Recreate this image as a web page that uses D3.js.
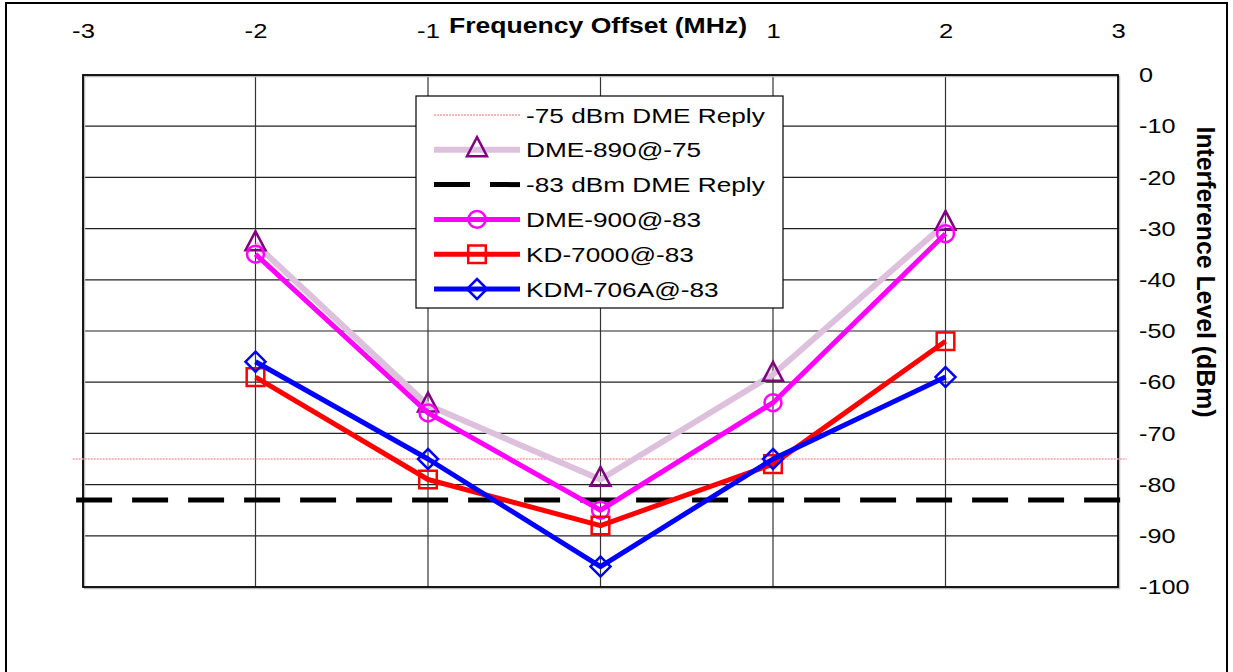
<!DOCTYPE html>
<html><head><meta charset="utf-8">
<script src="https://cdn.jsdelivr.net/npm/d3@7/dist/d3.min.js"></script>
<style>
html,body{margin:0;padding:0;background:#fff;}
text{font-family:Arial,"Liberation Sans",sans-serif;}
</style></head>
<body>
<svg id="chart" width="1233" height="672"></svg>
<script>
// ---- data ----
const xOffsets = [-2, -1, 0, 1, 2];
const dme890 = [-33, -64.5, -79, -58.5, -29];
const dme900 = [-35, -66, -85, -64, -31];
const kd7000 = [-59, -79, -88, -76, -52];
const kdm706a = [-56, -75, -96, -75, -59];
const ref75X = [-3.06, 3.05];
const ref75Y = [-75, -75];
const ref83X = [-3.04, 3.04];
const ref83Y = [-83, -83];
const xTicks = [-3, -2, -1, 0, 1, 2, 3];
const yTicks = [0, -10, -20, -30, -40, -50, -60, -70, -80, -90, -100];
const seriesNames = ["-75 dBm DME Reply", "DME-890@-75", "-83 dBm DME Reply", "DME-900@-83", "KD-7000@-83", "KDM-706A@-83"];
const xTitle = "Frequency Offset (MHz)";
const yTitle = "Interference Level (dBm)";

// ---- layout ----
const svg = d3.select("#chart");
const L = 83, R = 1118, T = 75, B = 587;
const x = d3.scaleLinear().domain([-3, 3]).range([L, R]);
const y = d3.scaleLinear().domain([0, -100]).range([T, B]);
const fmt = d => String(d);

function stretch(sel, f) {
  sel.each(function () {
    const w = this.getComputedTextLength();
    d3.select(this).attr("textLength", w * f).attr("lengthAdjust", "spacingAndGlyphs");
  });
}

// outer frame
svg.append("rect").attr("x", 6).attr("y", 3).attr("width", 1221).attr("height", 700)
  .attr("fill", "none").attr("stroke", "#000").attr("stroke-width", 2);

// grid
const g = svg.append("g");
g.selectAll("line.hg").data(yTicks.slice(1, -1)).enter().append("line")
  .attr("x1", L).attr("x2", R).attr("y1", d => y(d)).attr("y2", d => y(d))
  .attr("stroke", "#222").attr("stroke-width", 1.2);
g.selectAll("line.vg").data(xTicks.slice(1, -1)).enter().append("line")
  .attr("y1", T).attr("y2", B).attr("x1", d => x(d)).attr("x2", d => x(d))
  .attr("stroke", "#333").attr("stroke-width", 1.2);
// shadow + border
svg.append("rect").attr("x", L + 1.5).attr("y", T + 1.5).attr("width", R - L).attr("height", B - T)
  .attr("fill", "none").attr("stroke", "#bbb").attr("stroke-width", 1.5);
svg.append("rect").attr("x", L).attr("y", T).attr("width", R - L).attr("height", B - T)
  .attr("fill", "none").attr("stroke", "#000").attr("stroke-width", 1.8);

// axes
const xAxis = svg.append("g").attr("transform", `translate(0,${T})`)
  .call(d3.axisTop(x).tickValues(xTicks).tickSize(0).tickPadding(37).tickFormat(fmt));
xAxis.select(".domain").remove();
xAxis.selectAll("text").attr("font-size", 21).attr("fill", "#000").attr("font-family", "Arial");
stretch(xAxis.selectAll("text"), 1.22);

const yAxis = svg.append("g").attr("transform", `translate(${R},0)`)
  .call(d3.axisRight(y).tickValues(yTicks).tickSize(0).tickPadding(21).tickFormat(fmt));
yAxis.select(".domain").remove();
yAxis.selectAll("text").attr("font-size", 21).attr("fill", "#000").attr("font-family", "Arial");
stretch(yAxis.selectAll("text"), 1.2);

// x title with white background
const xt = svg.append("text").attr("x", 598).attr("y", 33).attr("text-anchor", "middle")
  .attr("font-size", 22).attr("font-weight", "bold").text(xTitle);
xt.attr("textLength", 298).attr("lengthAdjust", "spacingAndGlyphs");
svg.insert("rect", () => xt.node()).attr("x", 598 - 152).attr("y", 12).attr("width", 304).attr("height", 26).attr("fill", "#fff");

// y title
svg.append("text").attr("transform", "translate(1197,272) rotate(90)").attr("text-anchor", "middle")
  .attr("font-size", 26).attr("font-weight", "bold").attr("textLength", 291).attr("lengthAdjust", "spacingAndGlyphs")
  .text(yTitle);

// series
const line = d3.line().x(d => x(d[0])).y(d => y(d[1]));
const zipXY = (xs, ys) => xs.map((v, i) => [v, ys[i]]);

const triType = { draw(ctx, size) { const w = 10, h = 19;
  ctx.moveTo(0, -h * 2 / 3); ctx.lineTo(w, h / 3); ctx.lineTo(-w, h / 3); ctx.closePath(); } };
const diaType = { draw(ctx, size) { const r = 10;
  ctx.moveTo(0, -r); ctx.lineTo(r, 0); ctx.lineTo(0, r); ctx.lineTo(-r, 0); ctx.closePath(); } };
const sym = {
  triangle: d3.symbol().type(triType),
  circle: d3.symbol().type(d3.symbolCircle).size(225),
  square: d3.symbol().type(d3.symbolSquare).size(310),
  diamond: d3.symbol().type(diaType)
};

const series = [
  { name: seriesNames[0], data: zipXY(ref75X, ref75Y), color: "#f2a0a0", width: 1.3, dash: "2,1" },
  { name: seriesNames[1], data: zipXY(xOffsets, dme890), color: "#dcc0dc", width: 6, marker: "triangle", mcolor: "#800080" },
  { name: seriesNames[2], data: zipXY(ref83X, ref83Y), color: "#000", width: 5, dash: "36,20" },
  { name: seriesNames[3], data: zipXY(xOffsets, dme900), color: "#ff00ff", width: 5, marker: "circle", mcolor: "#ff00ff" },
  { name: seriesNames[4], data: zipXY(xOffsets, kd7000), color: "#ff0000", width: 5, marker: "square", mcolor: "#ff0000" },
  { name: seriesNames[5], data: zipXY(xOffsets, kdm706a), color: "#0000ff", width: 5, marker: "diamond", mcolor: "#0000ff" }
];

series.forEach(s => {
  svg.append("path").datum(s.data).attr("d", line).attr("fill", "none")
    .attr("stroke", s.color).attr("stroke-width", s.width).attr("stroke-linejoin", "round")
    .attr("stroke-dasharray", s.dash || null);
  if (s.marker) {
    svg.selectAll(null).data(s.data).enter().append("path")
      .attr("d", sym[s.marker]())
      .attr("transform", d => `translate(${x(d[0])},${y(d[1])})`)
      .attr("fill", "none").attr("stroke", s.mcolor).attr("stroke-width", 2.5);
  }
});

// legend
const lg = svg.append("g");
lg.append("rect").attr("x", 416).attr("y", 96).attr("width", 367).attr("height", 212)
  .attr("fill", "#fff").attr("stroke", "#000").attr("stroke-width", 1.2);
const rowY = i => 115 + i * 34.8;
series.forEach((s, i) => {
  const yy = rowY(i);
  lg.append("line").attr("x1", 434).attr("x2", 520).attr("y1", yy).attr("y2", yy)
    .attr("stroke", s.color).attr("stroke-width", s.width).attr("stroke-dasharray", s.dash || null);
  if (s.marker) {
    lg.append("path").attr("d", sym[s.marker]()).attr("transform", `translate(477,${yy})`)
      .attr("fill", "none").attr("stroke", s.mcolor).attr("stroke-width", 2.5);
  }
  const t = lg.append("text").attr("x", 526).attr("y", yy + 7.5).attr("font-size", 20).text(s.name);
  stretch(t, 1.31);
});
</script>
</body></html>
